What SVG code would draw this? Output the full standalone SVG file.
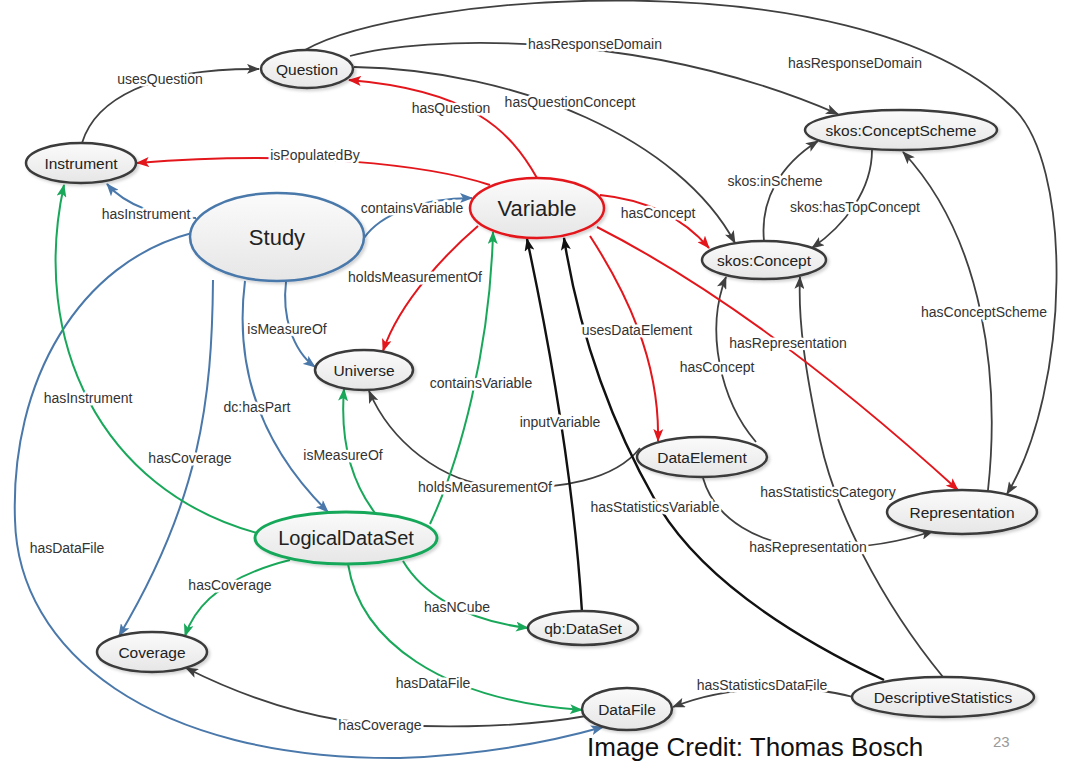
<svg xmlns="http://www.w3.org/2000/svg" width="1065" height="762" viewBox="0 0 1065 762">
<style>
.e{fill:none;stroke-width:1.8}
.k{stroke:#404040}
.kb{stroke:#111;stroke-width:2.4}
.r{stroke:#e3161c;stroke-width:2}
.b{stroke:#4a78aa;stroke-width:2}
.g{stroke:#19a85a;stroke-width:2}
.lbl{font-family:"Liberation Sans",Arial,sans-serif;font-size:14px;fill:#333;stroke:#fff;stroke-width:5;stroke-linejoin:round;paint-order:stroke;text-anchor:middle}
.n{fill:url(#gf);stroke:#3a3a3a;stroke-width:2.5;filter:url(#sh)}
.nt{font-family:"Liberation Sans",Arial,sans-serif;font-size:15.5px;fill:#222;text-anchor:middle}
</style>
<defs>
<linearGradient id="gf" x1="0" y1="0" x2="0" y2="1">
<stop offset="0" stop-color="#fbfbfb"/><stop offset="1" stop-color="#e6e6e6"/>
</linearGradient>
<filter id="sh" x="-20%" y="-30%" width="140%" height="160%">
<feDropShadow dx="2" dy="2" stdDeviation="1.5" flood-color="#000" flood-opacity="0.18"/>
</filter>
<marker id="ak" viewBox="0 0 13 10" refX="12" refY="5" markerWidth="13" markerHeight="10" markerUnits="userSpaceOnUse" orient="auto"><path d="M0,0 L13,5 L0,10 L3,5 z" fill="#404040"/></marker>
<marker id="akb" viewBox="0 0 13 10" refX="12" refY="5" markerWidth="13" markerHeight="10" markerUnits="userSpaceOnUse" orient="auto"><path d="M0,0 L13,5 L0,10 L3,5 z" fill="#111"/></marker>
<marker id="ar" viewBox="0 0 13 10" refX="12" refY="5" markerWidth="13" markerHeight="10" markerUnits="userSpaceOnUse" orient="auto"><path d="M0,0 L13,5 L0,10 L3,5 z" fill="#e3161c"/></marker>
<marker id="ab" viewBox="0 0 13 10" refX="12" refY="5" markerWidth="13" markerHeight="10" markerUnits="userSpaceOnUse" orient="auto"><path d="M0,0 L13,5 L0,10 L3,5 z" fill="#4a78aa"/></marker>
<marker id="ag" viewBox="0 0 13 10" refX="12" refY="5" markerWidth="13" markerHeight="10" markerUnits="userSpaceOnUse" orient="auto"><path d="M0,0 L13,5 L0,10 L3,5 z" fill="#19a85a"/></marker>
</defs>
<rect width="1065" height="762" fill="#fff"/>
<g id="connectors">
<!-- black -->
<path class="e k" marker-end="url(#ak)" d="M82 143 C95 100,150 68,259 69"/>
<path class="e k" marker-end="url(#ak)" d="M350 56 C420 36,640 28,838 114"/>
<path class="e k" marker-end="url(#ak)" d="M305 50 C400 -5,850 -45,1010 105 C1075 160,1070 390,1007 494"/>
<path class="e k" marker-end="url(#ak)" d="M354 67 C520 70,680 140,735 243"/>
<path class="e k" marker-end="url(#ak)" d="M764 241 C760 200,780 165,818 141"/>
<path class="e k" marker-end="url(#ak)" d="M872 150 C872 190,845 225,812 248"/>
<path class="e k" marker-end="url(#ak)" d="M988 490 C1000 380,985 240,903 152"/>
<path class="e k" marker-end="url(#ak)" d="M640 448 C615 480,560 490,500 487 C440 483,390 440,369 391"/>
<path class="e k" marker-end="url(#ak)" d="M756 442 C720 400,705 330,726 277"/>
<path class="e k" marker-end="url(#ak)" d="M943 677 C880 600,835 510,820 440 C805 370,798 320,800 277"/>
<path class="e k" marker-end="url(#ak)" d="M703 478 C715 520,760 545,810 547 C860 550,900 542,933 531"/>
<path class="e k" marker-end="url(#ak)" d="M586 716 C520 728,420 730,340 720 C280 710,230 690,186 668"/>
<path class="e k" marker-end="url(#ak)" d="M853 697 C820 688,740 680,673 707"/>
<path class="e kb" marker-end="url(#akb)" d="M582 612 C575 500,555 370,527 239"/>
<path class="e kb" marker-end="url(#akb)" d="M884 680 C800 640,700 580,655 500 C615 430,580 340,564 238"/>
<!-- red -->
<path class="e r" marker-end="url(#ar)" d="M490 185 C430 165,300 150,137 163"/>
<path class="e r" marker-end="url(#ar)" d="M537 178 C510 130,470 90,349 80"/>
<path class="e r" marker-end="url(#ar)" d="M600 195 C650 200,685 220,709 248"/>
<path class="e r" marker-end="url(#ar)" d="M597 227 Q760 310,958 490"/>
<path class="e r" marker-end="url(#ar)" d="M590 236 C625 290,660 360,658 441"/>
<path class="e r" marker-end="url(#ar)" d="M478 226 C450 250,400 300,383 351"/>
<!-- blue -->
<path class="e b" marker-end="url(#ab)" d="M196 218 C160 218,125 205,107 184"/>
<path class="e b" marker-end="url(#ab)" d="M364 238 C380 215,420 198,472 198"/>
<path class="e b" marker-end="url(#ab)" d="M286 282 C282 315,292 350,315 367"/>
<path class="e b" marker-end="url(#ab)" d="M245 281 C235 360,255 440,328 512"/>
<path class="e b" marker-end="url(#ab)" d="M213 280 C212 400,200 500,119 636"/>
<path class="e b" marker-end="url(#ab)" d="M192 233 C80 262,10 380,15 520 C18 650,150 760,400 758 C480 755,550 742,603 727"/>
<!-- green -->
<path class="e g" marker-end="url(#ag)" d="M257 533 C100 490,30 340,64 185"/>
<path class="e g" marker-end="url(#ag)" d="M430 524 C460 460,490 350,493 232"/>
<path class="e g" marker-end="url(#ag)" d="M375 513 C350 480,340 440,344 389"/>
<path class="e g" marker-end="url(#ag)" d="M290 560 C250 570,200 590,185 636"/>
<path class="e g" marker-end="url(#ag)" d="M403 561 C420 590,460 620,528 628"/>
<path class="e g" marker-end="url(#ag)" d="M348 564 C360 640,440 700,582 710"/>
<!-- labels -->
<text class="lbl" x="160" y="84">usesQuestion</text>
<text class="lbl" x="315" y="160">isPopulatedBy</text>
<text class="lbl" x="146" y="219">hasInstrument</text>
<text class="lbl" x="451" y="113">hasQuestion</text>
<text class="lbl" x="595" y="49">hasResponseDomain</text>
<text class="lbl" x="855" y="68">hasResponseDomain</text>
<text class="lbl" x="570" y="107">hasQuestionConcept</text>
<text class="lbl" x="412" y="213">containsVariable</text>
<text class="lbl" x="658" y="218">hasConcept</text>
<text class="lbl" x="775" y="186">skos:inScheme</text>
<text class="lbl" x="855" y="212">skos:hasTopConcept</text>
<text class="lbl" x="984" y="317">hasConceptScheme</text>
<text class="lbl" x="788" y="348">hasRepresentation</text>
<text class="lbl" x="637" y="335">usesDataElement</text>
<text class="lbl" x="415" y="282">holdsMeasurementOf</text>
<text class="lbl" x="481" y="388">containsVariable</text>
<text class="lbl" x="287" y="334">isMeasureOf</text>
<text class="lbl" x="257" y="412">dc:hasPart</text>
<text class="lbl" x="190" y="463">hasCoverage</text>
<text class="lbl" x="88" y="403">hasInstrument</text>
<text class="lbl" x="67" y="553">hasDataFile</text>
<text class="lbl" x="380" y="730">hasCoverage</text>
<text class="lbl" x="343" y="460">isMeasureOf</text>
<text class="lbl" x="485" y="492">holdsMeasurementOf</text>
<text class="lbl" x="560" y="427">inputVariable</text>
<text class="lbl" x="655" y="512">hasStatisticsVariable</text>
<text class="lbl" x="717" y="372">hasConcept</text>
<text class="lbl" x="828" y="497">hasStatisticsCategory</text>
<text class="lbl" x="808" y="552">hasRepresentation</text>
<text class="lbl" x="457" y="612">hasNCube</text>
<text class="lbl" x="433" y="688">hasDataFile</text>
<text class="lbl" x="230" y="590">hasCoverage</text>
<text class="lbl" x="762" y="690">hasStatisticsDataFile</text>
</g>
<g id="Question"><ellipse class="n" cx="307" cy="69" rx="46" ry="19"/><text class="nt" x="307" y="74.5">Question</text></g>
<g id="Instrument"><ellipse class="n" cx="81" cy="163" rx="55" ry="20"/><text class="nt" x="81" y="168.5">Instrument</text></g>
<g id="Study"><ellipse class="n" cx="277" cy="237" rx="87" ry="44" style="stroke:#4a78aa"/><text class="nt" x="277" y="245" style="font-size:22px">Study</text></g>
<g id="Variable"><ellipse class="n" cx="537" cy="208" rx="67" ry="30" style="stroke:#e3161c"/><text class="nt" x="537" y="216" style="font-size:22px">Variable</text></g>
<g id="skosConceptScheme"><ellipse class="n" cx="901" cy="130" rx="96" ry="20"/><text class="nt" x="901" y="135.5">skos:ConceptScheme</text></g>
<g id="skosConcept"><ellipse class="n" cx="764" cy="260" rx="62" ry="19"/><text class="nt" x="764" y="265.5">skos:Concept</text></g>
<g id="Universe"><ellipse class="n" cx="364" cy="370" rx="49" ry="20"/><text class="nt" x="364" y="375.5">Universe</text></g>
<g id="DataElement"><ellipse class="n" cx="702" cy="457" rx="65" ry="20"/><text class="nt" x="702" y="462.5">DataElement</text></g>
<g id="Representation"><ellipse class="n" cx="962" cy="512" rx="75" ry="22"/><text class="nt" x="962" y="517.5">Representation</text></g>
<g id="LogicalDataSet"><ellipse class="n" cx="346" cy="538" rx="91" ry="26" style="stroke:#19a85a;stroke-width:3"/><text class="nt" x="346" y="545" style="font-size:20px">LogicalDataSet</text></g>
<g id="qbDataSet"><ellipse class="n" cx="583" cy="628" rx="55" ry="17"/><text class="nt" x="583" y="633.5">qb:DataSet</text></g>
<g id="Coverage"><ellipse class="n" cx="152" cy="652" rx="55" ry="20"/><text class="nt" x="152" y="657.5">Coverage</text></g>
<g id="DataFile"><ellipse class="n" cx="627" cy="709" rx="45" ry="21"/><text class="nt" x="627" y="714.5">DataFile</text></g>
<g id="DescriptiveStatistics"><ellipse class="n" cx="943" cy="697" rx="91" ry="20"/><text class="nt" x="943" y="702.5">DescriptiveStatistics</text></g>
<text x="587" y="756" style="font-family:'Liberation Sans',Arial,sans-serif;font-size:26px;fill:#111">Image Credit: Thomas Bosch</text>
<text x="993" y="747" style="font-family:'Liberation Sans',Arial,sans-serif;font-size:15px;fill:#9a9a9a">23</text>
</svg>
